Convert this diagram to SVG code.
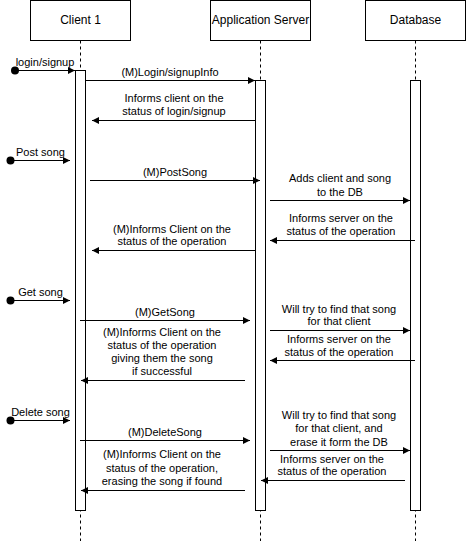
<svg xmlns="http://www.w3.org/2000/svg" width="466" height="541" viewBox="0 0 466 541">
<style>
  .box{fill:#fff;stroke:#000;stroke-width:1}
  .life{stroke:#000;stroke-width:1;stroke-dasharray:3 3;fill:none}
  .act{fill:#fff;stroke:#000;stroke-width:1}
  .msg{stroke:#000;stroke-width:1;fill:none;marker-end:url(#arr)}
  .hdr{font-family:"Liberation Sans",Arial,sans-serif;font-size:12px;fill:#000;text-anchor:middle}
  .lbl{font-family:"Liberation Sans",Arial,sans-serif;font-size:11px;fill:#000;text-anchor:middle}
</style>
<defs>
  <marker id="arr" markerWidth="8" markerHeight="8" refX="7" refY="3.5" orient="auto" markerUnits="userSpaceOnUse">
    <path d="M0,0 L7,3.5 L0,7 z" fill="#000"/>
  </marker>
</defs>
<rect width="466" height="541" fill="#fff"/>
<g id="client">
  <rect class="box" x="30.5" y="0.5" width="100" height="40"/>
  <text class="hdr" x="80.5" y="24">Client 1</text>
  <line class="life" x1="80.5" y1="40.5" x2="80.5" y2="541"/>
  <rect class="act" x="75.5" y="70.5" width="10" height="440"/>
</g>
<g id="server">
  <rect class="box" x="210.5" y="0.5" width="100" height="40"/>
  <text class="hdr" x="260.5" y="24">Application Server</text>
  <line class="life" x1="260.5" y1="40.5" x2="260.5" y2="541"/>
  <rect class="act" x="255.5" y="80.5" width="10" height="430"/>
</g>
<g id="database">
  <rect class="box" x="365.5" y="0.5" width="100" height="40"/>
  <text class="hdr" x="415.5" y="24">Database</text>
  <line class="life" x1="415.5" y1="40.5" x2="415.5" y2="541"/>
  <rect class="act" x="410.5" y="80.5" width="10" height="430"/>
</g>
<g id="connectors">
  <circle cx="15" cy="70.5" r="4" fill="#000"/>
  <line class="msg" x1="15" y1="70.5" x2="75" y2="70.5"/>
  <line class="msg" x1="85.5" y1="80.5" x2="255" y2="80.5"/>
  <line class="msg" x1="255.5" y1="120.5" x2="92" y2="120.5"/>

  <circle cx="10.5" cy="160.5" r="4" fill="#000"/>
  <line class="msg" x1="10.5" y1="160.5" x2="70" y2="160.5"/>
  <line class="msg" x1="90" y1="180.5" x2="260" y2="180.5"/>
  <line class="msg" x1="270" y1="200.5" x2="410" y2="200.5"/>
  <line class="msg" x1="415" y1="240.5" x2="270" y2="240.5"/>
  <line class="msg" x1="255.5" y1="250.5" x2="92" y2="250.5"/>

  <circle cx="10.5" cy="300.5" r="4" fill="#000"/>
  <line class="msg" x1="10.5" y1="300.5" x2="70" y2="300.5"/>
  <line class="msg" x1="80" y1="320.5" x2="250" y2="320.5"/>
  <line class="msg" x1="270" y1="330.5" x2="410" y2="330.5"/>
  <line class="msg" x1="415" y1="360.5" x2="270" y2="360.5"/>
  <line class="msg" x1="245" y1="380.5" x2="81" y2="380.5"/>

  <circle cx="10.5" cy="420.5" r="4" fill="#000"/>
  <line class="msg" x1="10.5" y1="420.5" x2="70" y2="420.5"/>
  <line class="msg" x1="80" y1="440.5" x2="250" y2="440.5"/>
  <line class="msg" x1="270" y1="450.5" x2="410" y2="450.5"/>
  <line class="msg" x1="405" y1="480.5" x2="261" y2="480.5"/>
  <line class="msg" x1="245" y1="490.5" x2="81" y2="490.5"/>
</g>
<g id="labels">
  <text class="lbl" x="45" y="66">login/signup</text>
  <text class="lbl" x="170" y="76">(M)Login/signupInfo</text>
  <text class="lbl" x="174" y="102">Informs client on the</text>
  <text class="lbl" x="174" y="115">status of login/signup</text>

  <text class="lbl" x="40.5" y="156">Post song</text>
  <text class="lbl" x="175" y="176">(M)PostSong</text>
  <text class="lbl" x="340" y="182">Adds client and song</text>
  <text class="lbl" x="340" y="196">to the DB</text>
  <text class="lbl" x="341" y="222">Informs server on the</text>
  <text class="lbl" x="341" y="235">status of the operation</text>
  <text class="lbl" x="172" y="233">(M)Informs Client on the</text>
  <text class="lbl" x="172" y="245">status of the operation</text>

  <text class="lbl" x="40.5" y="296">Get song</text>
  <text class="lbl" x="165" y="316">(M)GetSong</text>
  <text class="lbl" x="339" y="313">Will try to find that song</text>
  <text class="lbl" x="339" y="325">for that client</text>
  <text class="lbl" x="339" y="343">Informs server on the</text>
  <text class="lbl" x="339" y="356">status of the operation</text>
  <text class="lbl" x="162" y="336">(M)Informs Client on the</text>
  <text class="lbl" x="162" y="349">status of the operation</text>
  <text class="lbl" x="162" y="362">giving them the song</text>
  <text class="lbl" x="162" y="375">if successful</text>

  <text class="lbl" x="40.5" y="416">Delete song</text>
  <text class="lbl" x="165" y="436">(M)DeleteSong</text>
  <text class="lbl" x="339" y="419">Will try to find that song</text>
  <text class="lbl" x="339" y="432">for that client, and</text>
  <text class="lbl" x="339" y="445.5">erase it form the DB</text>
  <text class="lbl" x="332" y="463">Informs server on the</text>
  <text class="lbl" x="332" y="475">status of the operation</text>
  <text class="lbl" x="162" y="458">(M)Informs Client on the</text>
  <text class="lbl" x="162" y="472">status of the operation,</text>
  <text class="lbl" x="162" y="485">erasing the song if found</text>
</g>
</svg>
